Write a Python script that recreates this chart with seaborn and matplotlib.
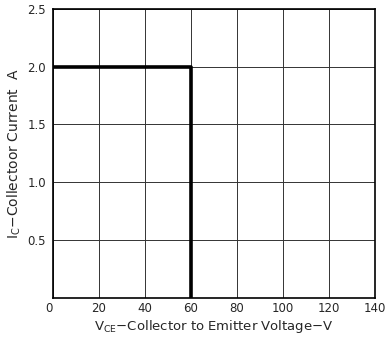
import seaborn as sns
import pandas as pd
import numpy as np
import matplotlib.pyplot as plt

# safe operating area boundary
vce = [0, 60, 60]
ic = [2.0, 2.0, 0.0]
x_ticks = [0, 20, 40, 60, 80, 100, 120, 140]
y_ticks = [0.5, 1.0, 1.5, 2.0, 2.5]

data = pd.DataFrame({'VCE': vce, 'IC': ic})

sns.set_style('white')
plt.rcParams['font.family'] = ['DejaVu Sans']

fig = plt.figure(figsize=(3.86, 3.40), dpi=100)
ax = fig.add_axes([0.137, 0.124, 0.835, 0.85])

sns.lineplot(data=data, x='VCE', y='IC', sort=False, estimator=None,
             color='black', linewidth=2.6, ax=ax)

ax.set_xlim(0, 140)
ax.set_ylim(0, 2.5)
ax.set_xticks(x_ticks)
ax.set_yticks(y_ticks)
ax.set_xticklabels([str(t) for t in x_ticks], fontsize=8.5)
ax.set_yticklabels(['%.1f' % t for t in y_ticks], fontsize=8.5)
# the origin label sits a little left of the corner
ax.get_xticklabels()[0].set_horizontalalignment('right')
ax.grid(True, color='#333333', linewidth=0.7)
ax.tick_params(axis='x', length=0, pad=3)
ax.tick_params(axis='y', length=0, pad=5)
for s in ax.spines.values():
    s.set_color('black')
    s.set_linewidth(1.2)

ax.set_xlabel(r'V$_{\mathregular{CE}}$$-$Collector to Emitter Voltage$-$V', fontsize=9.5, labelpad=2)
ax.set_ylabel(r'I$_{\mathregular{C}}$$-$Collectoor Current  A', fontsize=10, labelpad=3)

plt.savefig('out.png', dpi=100)
